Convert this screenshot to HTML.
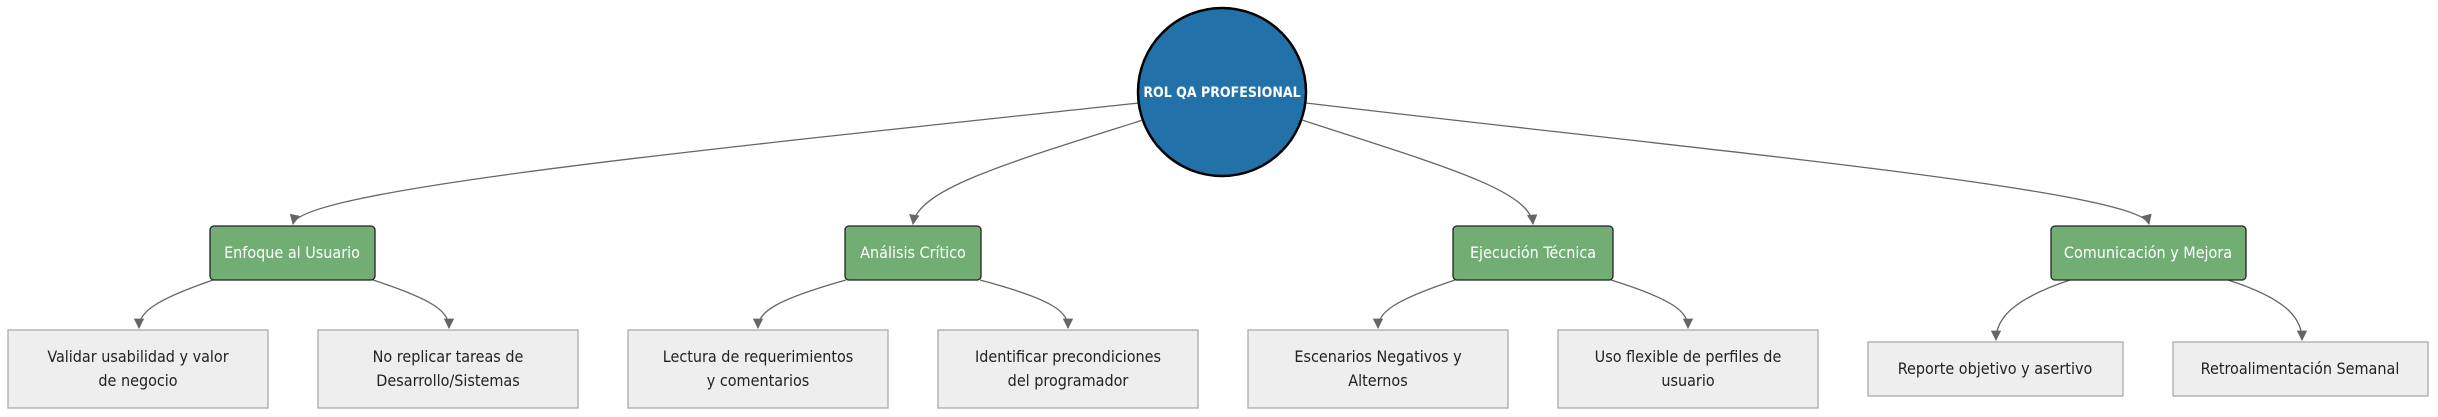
<!DOCTYPE html>
<html><head><meta charset="utf-8"><style>
html,body{margin:0;padding:0;background:#fff;width:2438px;height:417px;overflow:hidden}
text{font-family:"DejaVu Sans Condensed","DejaVu Sans","Liberation Sans",sans-serif;font-size:16px;text-anchor:middle}
.g{fill:#72ae74;stroke:#222;stroke-width:1.3}
.l{fill:#eeeeee;stroke:#aaa;stroke-width:1.3}
.e{fill:none;stroke:#666;stroke-width:1.3}
.w{fill:#fff}
.k{fill:#222}
</style></head><body>
<svg width="2438" height="417" xmlns="http://www.w3.org/2000/svg">
<defs><marker id="a" viewBox="0 0 10 10" refX="9" refY="5" markerWidth="8" markerHeight="8" orient="auto"><path d="M0,0L10,5L0,10z" fill="#666"/></marker></defs>
<path class="e" marker-end="url(#a)" d="M1139,103 C700,150 300,190 293,224"/>
<path class="e" marker-end="url(#a)" d="M1143,120 C1000,165 918,190 913,224"/>
<path class="e" marker-end="url(#a)" d="M1302,120 C1440,165 1530,190 1533,224"/>
<path class="e" marker-end="url(#a)" d="M1306,103 C1700,150 2140,190 2149,224"/>
<path class="e" marker-end="url(#a)" d="M213,280 C155,300 139,312 139,328"/>
<path class="e" marker-end="url(#a)" d="M373,280 C435,300 449,312 449,328"/>
<path class="e" marker-end="url(#a)" d="M846,280 C775,300 758,312 758,328"/>
<path class="e" marker-end="url(#a)" d="M980,280 C1055,300 1068,312 1068,328"/>
<path class="e" marker-end="url(#a)" d="M1455,280 C1395,300 1378,312 1378,328"/>
<path class="e" marker-end="url(#a)" d="M1611,280 C1675,300 1688,312 1688,328"/>
<path class="e" marker-end="url(#a)" d="M2070,280 C2010,300 1996,320 1996,340"/>
<path class="e" marker-end="url(#a)" d="M2228,280 C2290,300 2302,320 2302,340"/>
<circle cx="1222" cy="92" r="84" fill="#2272a9" stroke="#000" stroke-width="2.5"/>
<text class="w" x="1222" y="97" style="font-size:14px;font-weight:bold">ROL QA PROFESIONAL</text>
<rect class="g" x="210" y="226" width="165" height="54" rx="4"/><text class="w" x="292" y="258">Enfoque al Usuario</text>
<rect class="g" x="845" y="226" width="136" height="54" rx="4"/><text class="w" x="913" y="258">Análisis Crítico</text>
<rect class="g" x="1453" y="226" width="160" height="54" rx="4"/><text class="w" x="1533" y="258">Ejecución Técnica</text>
<rect class="g" x="2051" y="226" width="195" height="54" rx="4"/><text class="w" x="2148" y="258">Comunicación y Mejora</text>
<rect class="l" x="8" y="330" width="260" height="78"/><text class="k" x="138" y="362">Validar usabilidad y valor</text><text class="k" x="138" y="386">de negocio</text>
<rect class="l" x="318" y="330" width="260" height="78"/><text class="k" x="448" y="362">No replicar tareas de</text><text class="k" x="448" y="386">Desarrollo/Sistemas</text>
<rect class="l" x="628" y="330" width="260" height="78"/><text class="k" x="758" y="362">Lectura de requerimientos</text><text class="k" x="758" y="386">y comentarios</text>
<rect class="l" x="938" y="330" width="260" height="78"/><text class="k" x="1068" y="362">Identificar precondiciones</text><text class="k" x="1068" y="386">del programador</text>
<rect class="l" x="1248" y="330" width="260" height="78"/><text class="k" x="1378" y="362">Escenarios Negativos y</text><text class="k" x="1378" y="386">Alternos</text>
<rect class="l" x="1558" y="330" width="260" height="78"/><text class="k" x="1688" y="362">Uso flexible de perfiles de</text><text class="k" x="1688" y="386">usuario</text>
<rect class="l" x="1868" y="342" width="255" height="54"/><text class="k" x="1995" y="374">Reporte objetivo y asertivo</text>
<rect class="l" x="2173" y="342" width="255" height="54"/><text class="k" x="2300" y="374">Retroalimentación Semanal</text>
</svg>
</body></html>
